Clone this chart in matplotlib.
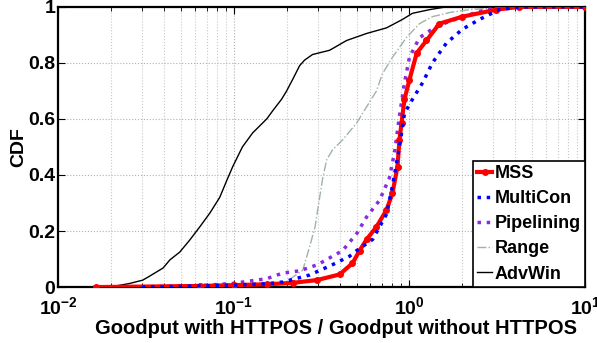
import numpy as np
import matplotlib
matplotlib.use('Agg')
import matplotlib.pyplot as plt
from matplotlib.ticker import FixedLocator, LogLocator, NullFormatter

plt.rcParams['font.family'] = ['Liberation Sans', 'DejaVu Sans']
plt.rcParams['font.weight'] = 'bold'
plt.rcParams['mathtext.fontset'] = 'custom'
plt.rcParams['mathtext.rm'] = 'Liberation Sans:bold'
plt.rcParams['mathtext.bf'] = 'Liberation Sans:bold'

# 곡선 데이터
mss_x = [0.0164, 0.064, 0.10, 0.154, 0.216, 0.297, 0.400, 0.474, 0.520, 0.570, 0.649, 0.740, 0.800,
         0.855, 0.877, 0.901, 0.937, 1.0, 1.10, 1.25, 1.48, 2.0, 3.12, 4.22, 10.0]
mss_y = [0.0, 0.004, 0.007, 0.01, 0.015, 0.025, 0.045, 0.085, 0.13, 0.17, 0.215, 0.275, 0.335,
         0.43, 0.525, 0.585, 0.67, 0.74, 0.835, 0.88, 0.94, 0.965, 0.99, 1.0, 1.0]

multi_x = [0.03, 0.064, 0.10, 0.154, 0.190, 0.270, 0.365, 0.456, 0.500, 0.617, 0.740, 0.800, 0.877,
           0.937, 1.04, 1.19, 1.35, 1.62, 2.0, 2.5, 3.24, 4.22, 10.0]
multi_y = [0.0, 0.004, 0.007, 0.012, 0.018, 0.043, 0.08, 0.11, 0.13, 0.17, 0.26, 0.36, 0.50,
           0.62, 0.67, 0.73, 0.80, 0.87, 0.92, 0.955, 0.99, 1.0, 1.0]

pipe_x = [0.0292, 0.064, 0.0987, 0.154, 0.190, 0.237, 0.300, 0.416, 0.500, 0.570, 0.676, 0.769, 0.822,
          0.877, 0.937, 1.0, 1.14, 1.42, 2.0, 2.74, 3.85, 10.0]
pipe_y = [0.0, 0.005, 0.013, 0.03, 0.05, 0.058, 0.08, 0.13, 0.19, 0.25, 0.31, 0.39, 0.48,
          0.61, 0.73, 0.82, 0.89, 0.93, 0.965, 0.99, 1.0, 1.0]

range_x = [0.08, 0.15, 0.20, 0.247, 0.270, 0.290, 0.321, 0.338, 0.365, 0.416, 0.500, 0.570, 0.649,
           0.700, 0.800, 0.960, 1.14, 1.35, 1.70, 2.2, 4.0, 10.0]
range_y = [0.0, 0.005, 0.02, 0.06, 0.143, 0.214, 0.39, 0.454, 0.49, 0.525, 0.585, 0.643, 0.70,
           0.76, 0.82, 0.89, 0.94, 0.965, 0.98, 0.99, 1.0, 1.0]

adv_x = [0.0164, 0.0197, 0.0256, 0.0304, 0.0334, 0.0396, 0.0433, 0.0493, 0.0562, 0.0641, 0.0731,
         0.0832, 0.0912, 0.0987, 0.112, 0.128, 0.154, 0.167, 0.187, 0.200, 0.216, 0.237, 0.253,
         0.281, 0.351, 0.439, 0.570, 0.740, 0.912, 1.04, 1.30, 1.62, 10.0]
adv_y = [0.0, 0.0, 0.013, 0.025, 0.04, 0.068, 0.097, 0.125, 0.168, 0.215, 0.264,
         0.32, 0.38, 0.43, 0.50, 0.55, 0.60, 0.63, 0.67, 0.70, 0.74, 0.79, 0.81,
         0.83, 0.845, 0.88, 0.905, 0.925, 0.955, 0.977, 0.99, 1.0, 1.0]

fig = plt.figure(figsize=(5.97, 3.43), dpi=100)
ax = fig.add_axes([0.0972, 0.163, 0.883, 0.817])

ax.plot(mss_x, mss_y, '-', color='red', lw=3, marker='o', ms=4, label='MSS', zorder=4)
ax.plot(multi_x, multi_y, ':', color='blue', lw=2.5, label='MultiCon', zorder=5)
ax.plot(pipe_x, pipe_y, ':', color='#8a2be2', lw=2.5, label='Pipelining', zorder=3)
ax.plot(range_x, range_y, '-.', color='#9fb3a8', lw=1, label='Range', zorder=2)
ax.plot(adv_x, adv_y, '-', color='black', lw=1, label='AdvWin', zorder=2)

ax.set_xscale('log')
ax.set_xlim(0.01, 10)
ax.set_ylim(0, 1)
ax.xaxis.set_major_locator(FixedLocator([0.01, 0.1, 1, 10]))
ax.set_xticklabels([r'$10^{-2}$', r'$10^{-1}$', r'$10^{0}$', r'$10^{1}$'])
ax.xaxis.set_minor_locator(LogLocator(base=10, subs=np.arange(2, 10)))
ax.xaxis.set_minor_formatter(NullFormatter())
ax.set_yticks([0, 0.2, 0.4, 0.6, 0.8, 1])
ax.set_yticklabels(['0', '0.2', '0.4', '0.6', '0.8', '1'])

ax.grid(True, which='major', ls=':', color='#b0b0b0', lw=0.8)
ax.grid(True, which='minor', axis='x', ls=':', color='#c8c8c8', lw=0.8)
ax.tick_params(which='both', direction='in', top=True, right=True)
ax.tick_params(which='major', length=5, labelsize=14)
ax.tick_params(axis='y', which='major', pad=2)
ax.tick_params(axis='x', which='major', pad=7)
ax.tick_params(which='minor', length=3)
for s in ax.spines.values():
    s.set_linewidth(1.6)

ax.set_xlabel('Goodput with HTTPOS / Goodput without HTTPOS', fontsize=14.5, fontweight='bold', labelpad=0)
ax.xaxis.set_label_coords(0.528, -0.115)
ax.set_ylabel('CDF', fontsize=14, fontweight='bold', labelpad=0.5)

leg = ax.legend(loc='lower right', fontsize=13, handlelength=0.8, handletextpad=0.15,
                borderaxespad=0, fancybox=False, edgecolor='black', framealpha=1,
                labelspacing=0.45, borderpad=0.25)
leg.get_frame().set_linewidth(1.2)

fig.savefig('out.png', dpi=100)
